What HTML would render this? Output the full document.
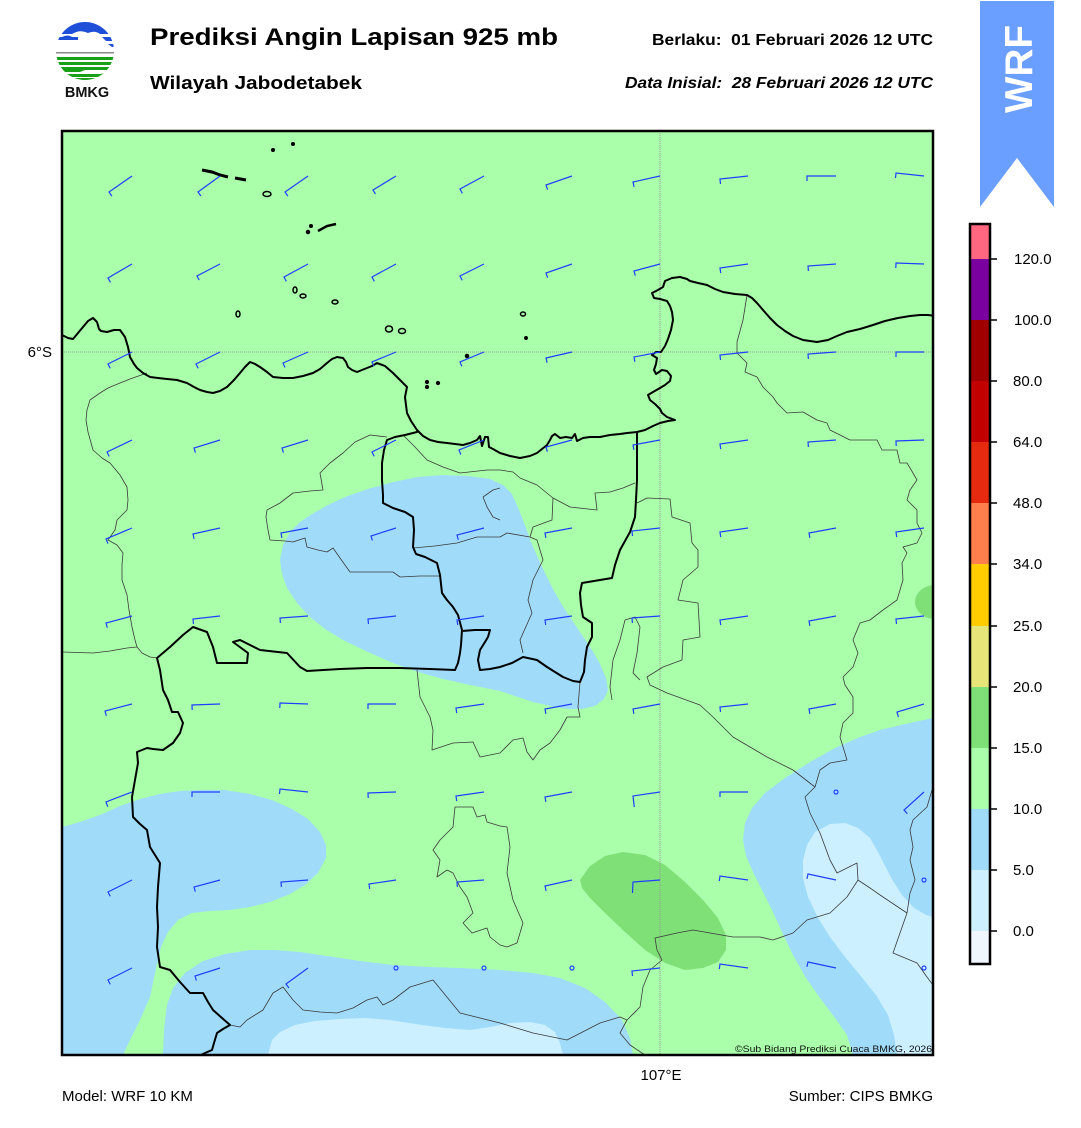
<!DOCTYPE html>
<html><head><meta charset="utf-8"><style>
html,body{margin:0;padding:0;background:#fff;}
svg{display:block;}
text{font-family:"Liberation Sans",Arial,sans-serif;}
</style></head><body>
<svg width="1081" height="1128" viewBox="0 0 1081 1128" xmlns="http://www.w3.org/2000/svg">
<defs>
<clipPath id="mapclip"><rect x="62" y="131" width="871" height="924"/></clipPath>
<clipPath id="logoclip"><circle cx="85" cy="51" r="29"/></clipPath>
</defs>
<rect width="1081" height="1128" fill="#fff"/>

<g clip-path="url(#logoclip)">
<rect x="50" y="20" width="70" height="64" fill="#fff"/>
<rect x="50" y="20" width="70" height="9" fill="#1d4fd8"/>
<path d="M50,29 L120,29 L120,34 L100,34 Q95,30 88,33 Q80,29 72,34 L50,34 Z" fill="#1d4fd8"/>
<path d="M50,37 L62,37 Q68,34 72,37 L78,37 L78,40 L50,40 Z" fill="#1d4fd8"/>
<path d="M102,37 L120,37 L120,41 L106,41 Z" fill="#1d4fd8"/>
<path d="M108,44 L120,44 L120,47 L112,47 Z" fill="#1d4fd8"/>
<rect x="50" y="52" width="70" height="1.5" fill="#888"/>
<rect x="50" y="57" width="70" height="3" fill="#19a019"/>
<rect x="50" y="62" width="70" height="3" fill="#19a019"/>
<path d="M50,67 L120,67 L120,70 L85,70 L80,72 L50,72 Z" fill="#19a019"/>
<path d="M58,74 L100,74 L110,72 L120,72 L120,76 L100,77 L58,77 Z" fill="#19a019"/>
<rect x="65" y="78" width="40" height="3" fill="#19a019"/>
</g>
<text x="87" y="97" font-size="14.5" font-weight="bold" text-anchor="middle" fill="#111">BMKG</text>

<text x="150" y="45" font-size="24.5" font-weight="bold" textLength="408" lengthAdjust="spacingAndGlyphs" fill="#000">Prediksi Angin Lapisan 925 mb</text>
<text x="150" y="89" font-size="18" font-weight="bold" textLength="212" lengthAdjust="spacingAndGlyphs" fill="#000">Wilayah Jabodetabek</text>
<text x="652" y="45" font-size="15.5" font-weight="bold" style="white-space:pre" textLength="281" lengthAdjust="spacingAndGlyphs" fill="#000">Berlaku:  01 Februari 2026 12 UTC</text>
<text x="625" y="88" font-size="15.5" font-weight="bold" font-style="italic" style="white-space:pre" textLength="308" lengthAdjust="spacingAndGlyphs" fill="#000">Data Inisial:  28 Februari 2026 12 UTC</text>

<path d="M980,1 L1054,1 L1054,207 L1017,158 L980,207 Z" fill="#6a9eff"/>
<text transform="translate(1032,69) rotate(-90)" font-size="39" font-weight="bold" text-anchor="middle" fill="#fff" textLength="88" lengthAdjust="spacingAndGlyphs">WRF</text>

<g clip-path="url(#mapclip)">
<rect x="62" y="131" width="871" height="924" fill="#aaffaa"/>
<path fill="#a0dcfa" d="M280,560 L283,545 L290,532 L300,522 L312,514 L328,505 L345,497 L368,489 L393,482 L418,477 L443,475 L468,476 L490,479 L503,485 L512,494 L519,510 L525,525 L531,542 L538,558 L545,573 L553,589 L562,605 L572,620 L582,635 L592,650 L600,664 L606,678 L608,690 L604,699 L595,706 L582,709 L567,709 L550,706 L533,702 L515,696 L500,691 L470,685 L443,679 L418,672 L393,663 L368,652 L343,640 L325,629 L310,617 L297,603 L287,588 L282,574 Z"/>
<path fill="#a0dcfa" d="M62,827 L80,822 L100,815 L120,806 L140,799 L160,794 L180,791 L200,790 L225,790 L250,794 L272,800 L292,809 L308,819 L320,832 L326,845 L326,858 L318,873 L305,885 L290,894 L270,902 L250,907 L230,910 L210,911 L192,913 L178,920 L168,932 L161,947 L155,973 L150,997 L140,1020 L130,1040 L123,1055 L62,1055 Z"/>
<path fill="#a0dcfa" d="M163,1055 L164,1030 L167,1005 L173,988 L185,973 L203,961 L225,954 L250,950 L275,950 L300,952 L327,956 L360,961 L393,965 L430,967 L460,968 L500,970 L533,973 L560,978 L585,988 L605,1002 L622,1020 L630,1038 L633,1055 Z"/>
<path fill="#ccf0ff" d="M268,1055 L272,1040 L280,1032 L295,1025 L315,1021 L340,1019 L365,1018 L390,1020 L415,1024 L445,1028 L470,1030 L490,1027 L510,1023 L530,1022 L545,1025 L555,1032 L560,1043 L563,1055 Z"/>
<path fill="#a0dcfa" d="M933,718 L905,724 L880,730 L860,737 L835,748 L810,762 L785,778 L765,793 L752,808 L745,823 L743,840 L746,856 L753,872 L762,890 L772,910 L782,932 L793,955 L806,978 L820,998 L835,1018 L847,1035 L853,1055 L933,1055 Z"/>
<path fill="#ccf0ff" d="M897,1055 L894,1035 L888,1015 L876,995 L860,975 L845,957 L830,937 L818,918 L808,897 L803,878 L803,860 L807,845 L815,832 L830,824 L845,823 L858,828 L870,838 L878,852 L885,866 L893,881 L902,895 L914,908 L926,915 L933,917 L933,1055 Z"/>
<path fill="#80e078" d="M580,880 L590,866 L605,856 L623,852 L645,855 L665,865 L685,882 L703,900 L718,918 L726,935 L726,950 L718,962 L703,968 L685,970 L665,963 L645,950 L625,932 L605,913 L590,898 L582,888 Z"/>
<ellipse cx="935" cy="602" rx="20" ry="17" fill="#80e078"/>

<line x1="660" y1="131" x2="660" y2="1055" stroke="#999" stroke-width="1" stroke-dasharray="1,1"/>
<line x1="62" y1="352" x2="933" y2="352" stroke="#999" stroke-width="1" stroke-dasharray="1,1"/>

<g fill="none" stroke="#3a3a3a" stroke-width="0.8" stroke-linejoin="round">
<path d="M147,373 L130,379 L120,383 L108,388 L100,393 L90,400 L87,410 L86,420 L88,432 L93,450 L102,458 L110,463 L120,475 L127,487 L128,500 L127,510 L117,520 L115,530 L108,540 L117,545 L123,553 L122,565 L122,580 L127,595 L129,610 L132,627 L135,640 L137,647 L127,648 L110,651 L93,653 L63,652"/>
<path d="M137,647 L142,653 L150,657 L157,658"/>
<path d="M387,437 L370,435 L355,442 L343,453 L330,463 L320,473 L323,490 L310,491 L293,493 L280,503 L267,510 L266,517 L268,530 L270,540 L285,541 L293,542 L305,538 L307,547 L318,550 L327,552 L333,548 L340,558 L350,572 L370,572 L393,572 L400,577 L420,576 L440,576"/>
<path d="M413,548 L435,546 L457,543 L477,537 L500,537 L507,533 L530,537 L537,540 L543,560 L533,580 L528,600 L532,613 L520,640 L523,653"/>
<path d="M403,435 L415,447 L427,460 L443,467 L460,473 L487,470 L500,470 L513,472 L520,478 L537,485 L553,498 L570,507 L597,510 L595,493 L610,492 L623,488 L635,483"/>
<path d="M553,498 L552,520 L533,527 L530,537"/>
<path d="M483,497 L493,490 L500,488 M483,497 L487,507 L493,517 L500,520"/>
<path d="M637,503 L647,498 L670,499 L672,517 L690,523 L692,543 L698,550 L698,567 L683,580 L678,600 L698,603 L700,637 L683,640 L682,660 L663,667 L647,677 L650,685 L667,693 L700,705 L713,717 L733,737 L767,757 L793,770 L815,787"/>
<path d="M747,295 L743,320 L737,342 L737,353 L747,363 L745,372 L757,377 L763,387 L773,397 L777,403 L787,413 L803,412 L817,420 L827,423 L830,430 L850,440 L877,440 L882,450 L897,450 L900,463 L907,463 L913,473 L917,480 L910,490 L907,500 L917,510 L917,523 L922,533 L917,543 L903,547 L907,553 L902,563 L903,580 L897,600 L883,610 L870,620 L860,623 L853,640 L858,653 L853,667 L843,677 L845,685 L853,697 L853,713 L843,723 L840,737 L847,760 L830,763 L820,770 L815,787 L805,797 L810,813 L820,833 L830,860 L837,873 L857,863 L858,880 L847,897 L830,913 L807,920 L793,933 L773,940 L760,937 L733,937 L710,933 L693,930 L677,933 L655,938 L657,950 L662,960 L650,970 L643,987 L640,1007 L627,1020 L620,1033 L630,1045 L645,1055"/>
<path d="M230,1025 L240,1027 L247,1020 L263,1010 L273,993 L283,987 L293,1000 L303,1010 L320,1012 L337,1013 L353,1008 L367,1000 L377,997 L383,1005 L393,1000 L410,987 L433,980 L460,1013 L500,1023 L533,1033 L567,1040 L600,1023 L620,1017 L627,1020"/>
<path d="M932,790 L927,807 L913,820 L910,830 L913,847 L910,860 L915,880 L910,893 L907,913 L900,933 L893,953 L917,963 L927,977 L933,985"/>
<path d="M858,880 L870,888 L883,897 L895,905 L907,913"/>
<path d="M455,807 L473,807 L477,817 L485,815 L487,822 L500,826 L507,827 L510,847 L507,873 L513,900 L523,923 L517,943 L507,947 L500,945 L490,937 L487,928 L472,933 L463,923 L473,913 L467,897 L460,887 L453,873 L447,870 L437,877 L440,860 L433,850 L440,840 L453,827 Z"/>
<path d="M417,670 L420,697 L430,717 L433,730 L432,750 L453,743 L473,742 L480,757 L500,753 L513,740 L523,738 L527,752 L533,760 L540,750 L550,743 L560,730 L567,717 L580,717 L578,707 L580,682"/>
<path d="M625,620 L635,617 L640,627 L637,653 L633,673 L640,680 M625,620 L620,640 L613,660 L610,687 L612,700"/>
</g>

<g fill="none" stroke="#000" stroke-width="2" stroke-linejoin="round" stroke-linecap="round">
<path d="M62,335 L68,338 L73,339 L78,333 L83,327 L88,321 L93,318 L97,322 L99,329 L101,331 L107,332 L114,330 L120,330 L125,337 L128,347 L130,357 L134,364 L137,368 L143,373 L150,377 L158,378 L167,379 L177,380 L187,383 L194,387 L200,390 L207,392 L213,393 L220,391 L227,387 L234,380 L240,373 L245,367 L250,362 L255,364 L260,367 L267,372 L273,377 L283,378 L293,378 L303,376 L313,373 L320,369 L327,363 L332,359 L337,357 L343,358 L346,362 L348,367 L352,370 L357,372 L362,370 L367,368 L372,366 L377,363 L385,366 L393,373 L400,380 L407,387 L405,397 L406,405 L407,413 L411,421 L417,430 L423,436 L430,440 L438,442 L447,443 L455,444 L463,445 L470,443 L477,440 L480,436 L482,446 L485,437 L488,437 L489,447 L493,449 L500,453 L510,456 L520,458 L530,456 L537,453 L542,449 L547,445 L550,440 L552,436 L555,434 L560,438 L566,437 L572,438 L575,434 L577,441 L583,438 L590,437 L600,437 L610,435 L620,434 L627,433 L637,432 L645,430 L653,426 L660,423 L668,421 L675,420 L667,417 L662,413 L660,409 L655,404 L650,400 L648,395 L653,392 L660,388 L665,385 L670,381 L671,376 L667,371 L662,370 L656,374 L654,370 L656,364 L657,358 L652,355 L656,352 L661,352 L665,346 L668,339 L671,330 L673,320 L672,312 L670,306 L667,301 L660,299 L654,298 L652,293 L658,290 L663,287 L665,281 L672,278 L680,277 L687,279 L690,281 L698,283 L707,285 L715,289 L723,292 L735,294 L747,295 L752,298 L757,303 L763,310 L770,318 L777,325 L785,331 L793,336 L803,340 L817,342 L828,340 L837,336 L847,332 L860,329 L873,325 L885,321 L898,318 L910,316 L920,315 L928,315 L936,316"/>
<path d="M417,432 L405,435 L395,437 L387,440 L384,450 L382,463 L382,480 L383,495 L383,503 L393,508 L405,512 L413,517 L414,530 L413,547 L416,554 L425,557 L437,563 L440,575 L442,593 L447,600 L453,607 L458,615 L462,630 L461,645 L460,653 L458,663 L455,670 L430,669 L400,668 L367,668 L340,669 L307,671 L300,667 L287,653 L260,650 L240,640 L233,642 L248,653 L247,663 L217,663 L213,647 L207,632 L193,627 L183,635 L170,647 L157,658 L160,670 L163,690 L168,700 L172,712 L178,712 L183,723 L180,733 L173,743 L163,750 L153,749 L147,748 L137,752 L138,763 L135,780 L132,797 L133,817 L140,824 L147,830 L150,847 L160,863 L158,887 L157,907 L158,927 L157,947 L160,967 L170,970 L180,982 L190,993 L203,993 L208,1002 L213,1010 L222,1018 L230,1025 L223,1029 L217,1033 L214,1043 L212,1050 L205,1053 L197,1057"/>
<path d="M462,631 L475,630 L490,630 L488,637 L485,642 L480,650 L478,660 L480,670 L490,669 L500,667 L512,663 L523,657 L537,660 L547,667 L563,677 L573,681 L580,682 L584,672 L585,660 L587,647 L592,637 L592,623 L583,617 L581,605 L580,593 L582,583 L600,580 L612,578 L615,565 L620,550 L630,532 L635,517 L636,500 L637,480 L637,432"/>
</g>

<g fill="none" stroke="#000" stroke-width="1.5">
<circle cx="273" cy="150" r="1.3" fill="#000"/>
<circle cx="293" cy="144" r="1.3" fill="#000"/>
<path d="M202,170 L212,172 L220,175 L228,177" stroke-width="3"/>
<path d="M235,178 L246,180" stroke-width="3"/>
<ellipse cx="267" cy="194" rx="4" ry="2.5"/>
<circle cx="308" cy="232" r="1.5" fill="#000"/>
<circle cx="311" cy="226" r="1.3" fill="#000"/>
<path d="M318,231 L327,226 L336,224" stroke-width="2.5"/>
<ellipse cx="295" cy="290" rx="2" ry="3"/>
<ellipse cx="303" cy="296" rx="3" ry="2"/>
<ellipse cx="335" cy="302" rx="3" ry="2"/>
<ellipse cx="238" cy="314" rx="2" ry="3"/>
<ellipse cx="389" cy="329" rx="3.5" ry="3"/>
<ellipse cx="402" cy="331" rx="3.5" ry="2.5"/>
<circle cx="467" cy="356" r="1.5" fill="#000"/>
<circle cx="427" cy="382" r="1.4" fill="#000"/>
<circle cx="427" cy="387" r="1.4" fill="#000"/>
<circle cx="438" cy="383" r="1.4" fill="#000"/>
<ellipse cx="523" cy="314" rx="2.5" ry="2"/>
<circle cx="526" cy="338" r="1.2" fill="#000"/>
</g>

<g fill="none" stroke="#1f3fff" stroke-width="1.2">
<polyline points="111.9,196.1 109,192 132,176"/>
<polyline points="200.9,196 198,192 220,176"/>
<polyline points="287.9,196.1 285,192 308,176"/>
<polyline points="375.5,194.1 373,190 396,176"/>
<polyline points="462.3,193.3 460,189 484,176"/>
<polyline points="547.6,189.7 546,185 572,176"/>
<polyline points="634.1,186.9 633,182 660,176"/>
<polyline points="720.5,184 720,179 748,176"/>
<polyline points="807,181 807,176 836,176"/>
<polyline points="895.5,178 896,173 924,176"/>
<polyline points="110.5,282.3 108,278 132,264"/>
<polyline points="199.2,280.1 197,276 220,264"/>
<polyline points="286.3,281.3 284,277 308,264"/>
<polyline points="374.3,281.3 372,277 396,264"/>
<polyline points="462.2,280.3 460,276 484,264"/>
<polyline points="547.6,277.7 546,273 572,264"/>
<polyline points="635.3,275.7 634,271 660,264"/>
<polyline points="720.7,273 720,268 748,264"/>
<polyline points="808.4,271 808,266 836,264"/>
<polyline points="895.8,268 896,263 924,264"/>
<polyline points="110.2,368.3 108,364 132,352"/>
<polyline points="198.2,368.3 196,364 220,352"/>
<polyline points="285,367.5 283,363 308,352"/>
<polyline points="373.8,366.3 372,362 396,352"/>
<polyline points="461.8,366.3 460,362 484,352"/>
<polyline points="547.1,362.7 546,358 572,352"/>
<polyline points="634.9,361.7 634,357 660,352"/>
<polyline points="720.5,360 720,355 748,352"/>
<polyline points="808.4,359 808,354 836,352"/>
<polyline points="896,357 896,352 924,352"/>
<polyline points="109.2,456.5 107,452 132,440"/>
<polyline points="195.4,452.7 194,448 220,440"/>
<polyline points="283.4,452.7 282,448 308,440"/>
<polyline points="374.2,456.3 372,452 396,440"/>
<polyline points="460.8,454.5 459,450 484,440"/>
<polyline points="547.3,451.7 546,447 572,440"/>
<polyline points="633.9,449.9 633,445 660,440"/>
<polyline points="720.7,449 720,444 748,440"/>
<polyline points="808.4,447 808,442 836,440"/>
<polyline points="896.2,446 896,441 924,440"/>
<polyline points="108,543.7 106,539 132,528"/>
<polyline points="194.1,538.9 193,534 220,528"/>
<polyline points="281.9,537.9 281,533 308,528"/>
<polyline points="372.4,540.5 371,536 396,528"/>
<polyline points="458.3,539.9 457,535 484,528"/>
<polyline points="545.9,537.9 545,533 572,528"/>
<polyline points="632.5,536 632,531 660,528"/>
<polyline points="720.7,537 720,532 748,528"/>
<polyline points="809.9,537.9 809,533 836,528"/>
<polyline points="896.7,537 896,532 924,528"/>
<polyline points="107.3,627.7 106,623 132,616"/>
<polyline points="193.5,623.9 193,619 220,616"/>
<polyline points="280.4,623 280,618 308,616"/>
<polyline points="368.5,624 368,619 396,616"/>
<polyline points="457.7,624.9 457,620 484,616"/>
<polyline points="545.7,624.9 545,620 572,616"/>
<polyline points="632.4,623 632,618 660,616"/>
<polyline points="720.7,625 720,620 748,616"/>
<polyline points="809.9,625.9 809,621 836,616"/>
<polyline points="896.5,624 896,619 924,616"/>
<polyline points="106.3,715.9 105,711 132,704"/>
<polyline points="192.2,710 192,705 220,704"/>
<polyline points="279.8,708 280,703 308,704"/>
<polyline points="368,709 368,704 396,704"/>
<polyline points="456.7,713 456,708 484,704"/>
<polyline points="545.9,713.9 545,709 572,704"/>
<polyline points="633.9,713.9 633,709 660,704"/>
<polyline points="720.5,712 720,707 748,704"/>
<polyline points="809.9,713.9 809,709 836,704"/>
<polyline points="898.4,716.9 897,712 924,704"/>
<polyline points="107.8,806.7 106,802 132,792"/>
<polyline points="192,797 192,792 220,792"/>
<polyline points="279.5,794 280,789 308,792"/>
<polyline points="368.2,798 368,793 396,792"/>
<polyline points="456.7,801 456,796 484,792"/>
<polyline points="545.9,801.9 545,797 572,792"/>
<polyline points="634.3,807 633,796 660,792"/>
<polyline points="720,797 720,792 748,792"/>
<polyline points="907.3,813.7 904,810 924,792"/>
<polyline points="110.2,896.3 108,892 132,880"/>
<polyline points="195.3,891.7 194,887 220,880"/>
<polyline points="281.4,886.9 281,882 308,880"/>
<polyline points="369.7,888.9 369,884 396,880"/>
<polyline points="457.4,886.9 457,882 484,880"/>
<polyline points="546.1,890.9 545,886 572,880"/>
<polyline points="632.5,893 633,882 660,880"/>
<polyline points="719.3,881 720,876 748,880"/>
<polyline points="806.9,878.9 808,874 836,880"/>
<polyline points="110.2,984.3 108,980 132,968"/>
<polyline points="196.4,980.5 195,976 220,968"/>
<polyline points="288.9,988 286,984 308,968"/>
<polyline points="632.5,976 632,971 660,968"/>
<polyline points="719.3,969 720,964 748,968"/>
<polyline points="806.9,966.9 808,962 836,968"/>
<circle cx="836" cy="792" r="2"/>
<circle cx="924" cy="880" r="2"/>
<circle cx="396" cy="968" r="2"/>
<circle cx="484" cy="968" r="2"/>
<circle cx="572" cy="968" r="2"/>
<circle cx="924" cy="968" r="2"/>
</g>

<text x="932" y="1052" font-size="9.5" text-anchor="end" fill="#111" textLength="197" lengthAdjust="spacingAndGlyphs">©Sub Bidang Prediksi Cuaca BMKG, 2026</text>
</g>
<rect x="62" y="131" width="871" height="924" fill="none" stroke="#000" stroke-width="2.5"/>

<text x="52" y="357" font-size="15" text-anchor="end" fill="#000">6°S</text>
<text x="661" y="1080" font-size="15" text-anchor="middle" fill="#000">107°E</text>
<text x="62" y="1101" font-size="15" fill="#000">Model: WRF 10 KM</text>
<text x="933" y="1101" font-size="15" text-anchor="end" fill="#000">Sumber: CIPS BMKG</text>

<rect x="970" y="224" width="20" height="35" fill="#ff6680"/>
<rect x="970" y="259" width="20" height="61" fill="#7a00a0"/>
<rect x="970" y="320" width="20" height="61" fill="#a00000"/>
<rect x="970" y="381" width="20" height="61" fill="#c30000"/>
<rect x="970" y="442" width="20" height="61" fill="#e62a10"/>
<rect x="970" y="503" width="20" height="61" fill="#ff7f4c"/>
<rect x="970" y="564" width="20" height="62" fill="#ffcc00"/>
<rect x="970" y="626" width="20" height="61" fill="#e6e678"/>
<rect x="970" y="687" width="20" height="61" fill="#80e078"/>
<rect x="970" y="748" width="20" height="61" fill="#aaffaa"/>
<rect x="970" y="809" width="20" height="61" fill="#a0dcfa"/>
<rect x="970" y="870" width="20" height="61" fill="#ccf0ff"/>
<rect x="970" y="931" width="20" height="33" fill="#f0f6fd"/>
<rect x="970" y="224" width="20" height="740" fill="none" stroke="#000" stroke-width="2.5"/>
<g stroke="#000" stroke-width="1.5">
<line x1="990" y1="259" x2="997" y2="259"/><line x1="990" y1="320" x2="997" y2="320"/>
<line x1="990" y1="381" x2="997" y2="381"/><line x1="990" y1="442" x2="997" y2="442"/>
<line x1="990" y1="503" x2="997" y2="503"/><line x1="990" y1="564" x2="997" y2="564"/>
<line x1="990" y1="626" x2="997" y2="626"/><line x1="990" y1="687" x2="997" y2="687"/>
<line x1="990" y1="748" x2="997" y2="748"/><line x1="990" y1="809" x2="997" y2="809"/>
<line x1="990" y1="870" x2="997" y2="870"/><line x1="990" y1="931" x2="997" y2="931"/>
</g>
<g font-size="15" fill="#000">
<text x="1014" y="264">120.0</text>
<text x="1014" y="325">100.0</text>
<text x="1013" y="386">80.0</text>
<text x="1013" y="447">64.0</text>
<text x="1013" y="508">48.0</text>
<text x="1013" y="569">34.0</text>
<text x="1013" y="631">25.0</text>
<text x="1013" y="692">20.0</text>
<text x="1013" y="753">15.0</text>
<text x="1013" y="814">10.0</text>
<text x="1013" y="875">5.0</text>
<text x="1013" y="936">0.0</text>
</g>
</svg>
</body></html>
